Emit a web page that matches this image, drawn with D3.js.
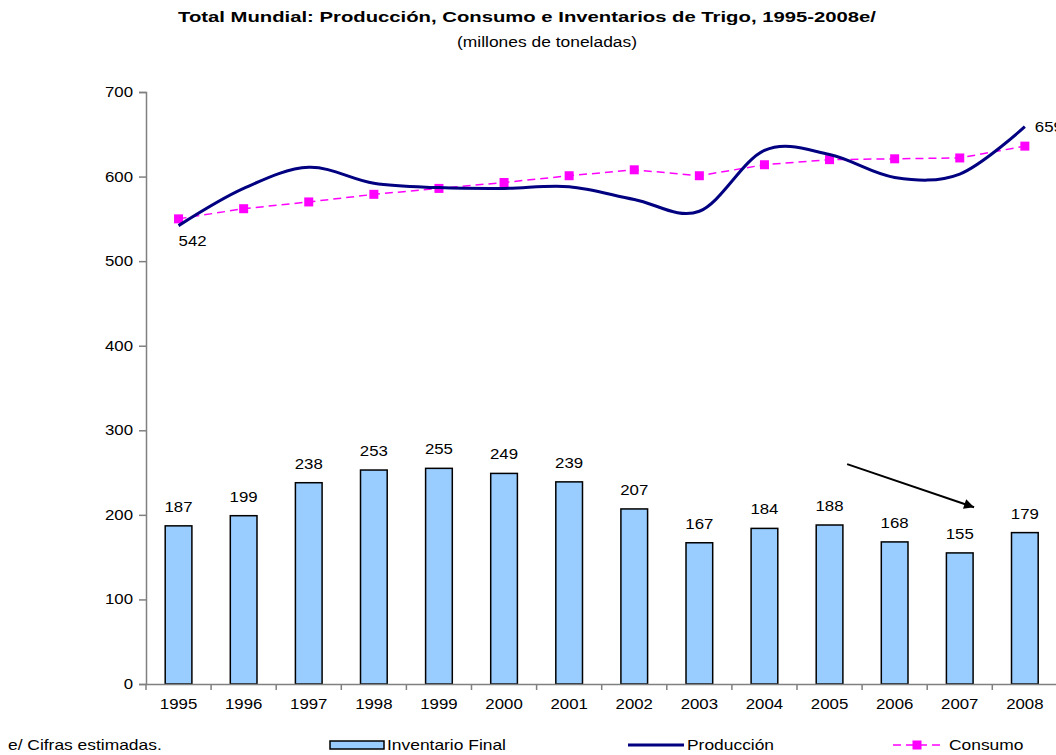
<!DOCTYPE html>
<html>
<head>
<meta charset="utf-8">
<script src="https://cdn.jsdelivr.net/npm/d3@7"></script>
<style>
  body { margin: 0; background: #fff; }
  svg { display: block; font-family: "Liberation Sans", Arial, sans-serif; }
</style>
</head>
<body>
<div class="visHolder"></div>
<script>
const years = ['1995','1996','1997','1998','1999','2000','2001','2002','2003','2004','2005','2006','2007','2008'];
const inventario = [187, 199, 238, 253, 255, 249, 239, 207, 167, 184, 188, 168, 155, 179];
const produccion = [542, 586, 611, 592, 587, 586, 588, 573, 559, 631, 626, 599, 603, 659];
const consumo = [550, 562, 570, 579, 586, 593, 601, 608, 601, 614, 620, 621, 622, 636];
const yTicks = [0, 100, 200, 300, 400, 500, 600, 700];

const width = 1056;
const height = 755;
const stretchK = 1.2;

const svg = d3.select('.visHolder')
  .append('svg')
  .attr('width', width)
  .attr('height', height);

// text in the picture is a bit wider than normal Arial
function stretch(sel, k = stretchK) {
  sel.each(function () {
    const w = this.getComputedTextLength();
    this.setAttribute('textLength', w * k);
    this.setAttribute('lengthAdjust', 'spacingAndGlyphs');
  });
}

const xScale = d3.scaleBand()
  .domain(years)
  .range([146, 146 + 14 * 65.1])
  .padding(0);

const yScale = d3.scaleLinear()
  .domain([0, 700])
  .range([684, 92]);

const cx = y => xScale(y) + xScale.bandwidth() / 2;
const barW = xScale.bandwidth() * 0.41;

// titles
svg.append('text')
  .attr('x', 527).attr('y', 22)
  .attr('text-anchor', 'middle')
  .style('font-size', '15px').style('font-weight', 'bold')
  .text('Total Mundial: Producción, Consumo e Inventarios de Trigo, 1995-2008e/')
  .attr('textLength', 698)
  .attr('lengthAdjust', 'spacingAndGlyphs');

svg.append('text')
  .attr('x', 547).attr('y', 47)
  .attr('text-anchor', 'middle')
  .style('font-size', '14px')
  .text('(millones de toneladas)')
  .attr('textLength', 180)
  .attr('lengthAdjust', 'spacingAndGlyphs');

// y axis
const yAxis = d3.axisLeft(yScale).tickValues(yTicks).tickSize(7).tickPadding(6);
const gy = svg.append('g')
  .attr('transform', 'translate(146,0)')
  .call(yAxis);
gy.select('.domain').attr('stroke', '#808080').attr('stroke-width', 1.5);
gy.selectAll('.tick line').attr('stroke', '#808080').attr('stroke-width', 1.5);
gy.selectAll('.tick text').style('font-size', '14px').attr('fill', '#000').call(stretch);

// bars
svg.selectAll('rect.bar')
  .data(inventario)
  .enter()
  .append('rect')
  .attr('class', 'bar')
  .attr('x', (d, i) => cx(years[i]) - barW / 2)
  .attr('y', d => yScale(d))
  .attr('width', barW)
  .attr('height', d => yScale(0) - yScale(d))
  .attr('fill', '#99CCFF')
  .attr('stroke', '#000')
  .attr('stroke-width', 1.5);

svg.selectAll('text.barlabel')
  .data(inventario)
  .enter()
  .append('text')
  .attr('class', 'barlabel')
  .attr('x', (d, i) => cx(years[i]))
  .attr('y', d => yScale(d) - 14)
  .attr('text-anchor', 'middle')
  .style('font-size', '14px')
  .text(d => d)
  .call(stretch);

// x axis
const xAxis = d3.axisBottom(xScale).tickSize(0).tickPadding(15);
const gx = svg.append('g')
  .attr('transform', 'translate(0,684)')
  .call(xAxis);
gx.select('.domain').attr('stroke', '#808080').attr('stroke-width', 1.5);
gx.selectAll('.tick text').style('font-size', '14px').attr('fill', '#000').call(stretch);
gx.selectAll('line.cat')
  .data(years.concat(['end']))
  .enter()
  .append('line')
  .attr('class', 'cat')
  .attr('x1', (d, i) => 146 + i * xScale.step())
  .attr('x2', (d, i) => 146 + i * xScale.step())
  .attr('y1', 0).attr('y2', 6)
  .attr('stroke', '#808080').attr('stroke-width', 1.5);

// consumo
const consLine = d3.line()
  .x((d, i) => cx(years[i]))
  .y(d => yScale(d));
svg.append('path')
  .datum(consumo)
  .attr('d', consLine)
  .attr('fill', 'none')
  .attr('stroke', '#FF00FF')
  .attr('stroke-width', 1.5)
  .attr('stroke-dasharray', '8,5');
svg.selectAll('rect.cons')
  .data(consumo)
  .enter()
  .append('rect')
  .attr('class', 'cons')
  .attr('x', (d, i) => cx(years[i]) - 4.5)
  .attr('y', d => yScale(d) - 4.5)
  .attr('width', 9).attr('height', 9)
  .attr('fill', '#FF00FF');

// produccion
const prodLine = d3.line()
  .x((d, i) => cx(years[i]))
  .y(d => yScale(d))
  .curve(d3.curveCardinal.tension(0));
svg.append('path')
  .datum(produccion)
  .attr('d', prodLine)
  .attr('fill', 'none')
  .attr('stroke', '#000080')
  .attr('stroke-width', 3);

svg.append('text')
  .attr('x', cx(years[0]))
  .attr('y', yScale(produccion[0]) + 20)
  .attr('text-anchor', 'start')
  .style('font-size', '14px')
  .text(produccion[0])
  .call(stretch);
svg.append('text')
  .attr('x', cx(years[13]) + 10)
  .attr('y', yScale(produccion[13]) + 5)
  .style('font-size', '14px')
  .text(produccion[13])
  .call(stretch);

// arrow annotation
svg.append('defs').append('marker')
  .attr('id', 'arrow')
  .attr('viewBox', '0 0 10 10')
  .attr('refX', 10).attr('refY', 5)
  .attr('markerWidth', 6).attr('markerHeight', 5)
  .attr('markerUnits', 'strokeWidth')
  .attr('orient', 'auto')
  .append('path')
  .attr('d', 'M0,0L10,5L0,10Z')
  .attr('fill', '#000');
svg.append('line')
  .attr('x1', cx('2005') + xScale.step() * 0.27)
  .attr('y1', yScale(260))
  .attr('x2', cx('2007') + xScale.step() * 0.22)
  .attr('y2', yScale(209))
  .attr('stroke', '#000')
  .attr('stroke-width', 2)
  .attr('marker-end', 'url(#arrow)');

// footnote + legend
const ly = 745;
svg.append('text')
  .attr('x', 8).attr('y', ly + 5)
  .style('font-size', '14.5px')
  .text('e/ Cifras estimadas.')
  .call(stretch);

svg.append('rect')
  .attr('x', 330).attr('y', ly - 4)
  .attr('width', 54).attr('height', 8)
  .attr('fill', '#99CCFF').attr('stroke', '#000').attr('stroke-width', 1.5);
svg.append('text')
  .attr('x', 387).attr('y', ly + 5)
  .style('font-size', '14.5px')
  .text('Inventario Final')
  .call(stretch);

svg.append('line')
  .attr('x1', 628).attr('x2', 684)
  .attr('y1', ly).attr('y2', ly)
  .attr('stroke', '#000080').attr('stroke-width', 3);
svg.append('text')
  .attr('x', 687).attr('y', ly + 5)
  .style('font-size', '14.5px')
  .text('Producción')
  .call(stretch);

svg.append('line')
  .attr('x1', 893).attr('x2', 942)
  .attr('y1', ly).attr('y2', ly)
  .attr('stroke', '#FF00FF').attr('stroke-width', 1.5)
  .attr('stroke-dasharray', '8,5');
svg.append('rect')
  .attr('x', 917 - 4.5).attr('y', ly - 4.5)
  .attr('width', 9).attr('height', 9)
  .attr('fill', '#FF00FF');
svg.append('text')
  .attr('x', 949).attr('y', ly + 5)
  .style('font-size', '14.5px')
  .text('Consumo')
  .call(stretch);
</script>
</body>
</html>
